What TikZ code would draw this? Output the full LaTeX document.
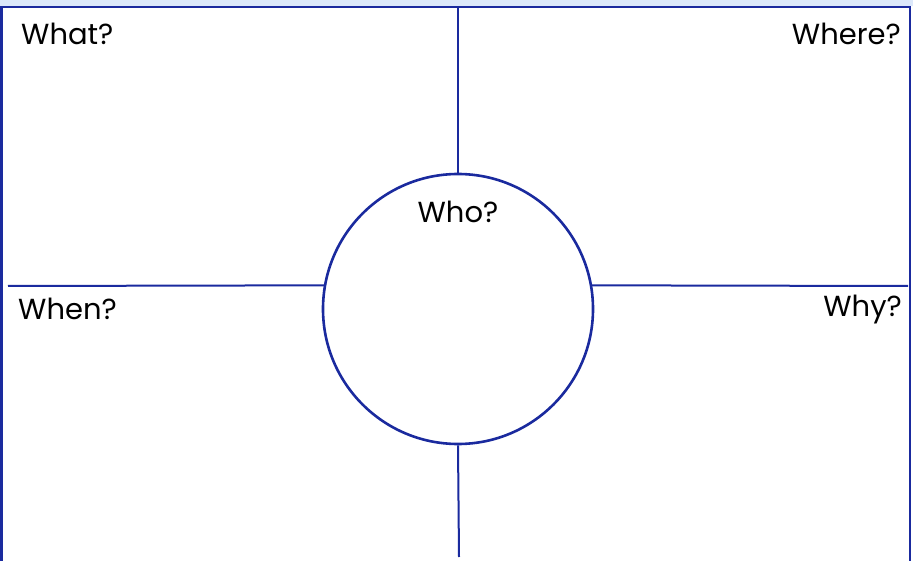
\documentclass[tikz,border=0pt]{standalone}
\usepackage{fontspec}
\setmainfont{Poppins}
\definecolor{inkblue}{RGB}{26,42,158}
\definecolor{paleband}{RGB}{220,232,250}
\usetikzlibrary{positioning}

\begin{document}
\begin{tikzpicture}[
  x=1pt, y=-1pt,
  frame/.style={draw=inkblue, line width=2.2pt},
  divider/.style={draw=inkblue, line width=2pt},
  hub/.style={circle, draw=inkblue, line width=2.6pt, minimum size=270pt, inner sep=0pt},
  qlabel/.style={font=\fontsize{29}{34}\selectfont, text=black, inner sep=0pt}
]
\useasboundingbox (0,0) rectangle (913,561);
\fill[paleband] (0,0) rectangle (913,6);
\begin{scope}
\clip (0,0) rectangle (913,561);
\draw[frame] (1.5,7) rectangle (910,575);
\end{scope}

% centre circle
\node[hub] (who) at (458,309) {};
\node[qlabel, below=28pt of who.north] (whotxt) {Who?};

% dividers
\coordinate (topend) at (458,7);
\coordinate (botend) at (459,557);
\coordinate (leftend) at (8,286);
\coordinate (rightend) at (908,286);
\draw[divider] (topend) -- (who.north);
\draw[divider] (who.south) -- (botend);
\draw[divider] (leftend) -- (who.170);
\draw[divider] (who.10) -- (rightend);

% corner questions
\node[qlabel, anchor=north west] (what) at (21,23) {What?};
\node[qlabel, anchor=north east] (where) at (901,23) {Where?};
\node[qlabel, anchor=north west] (when) at (18,298) {When?};
\node[qlabel, anchor=north east] (why) at (902,295) {Why?};
\end{tikzpicture}
\end{document}
